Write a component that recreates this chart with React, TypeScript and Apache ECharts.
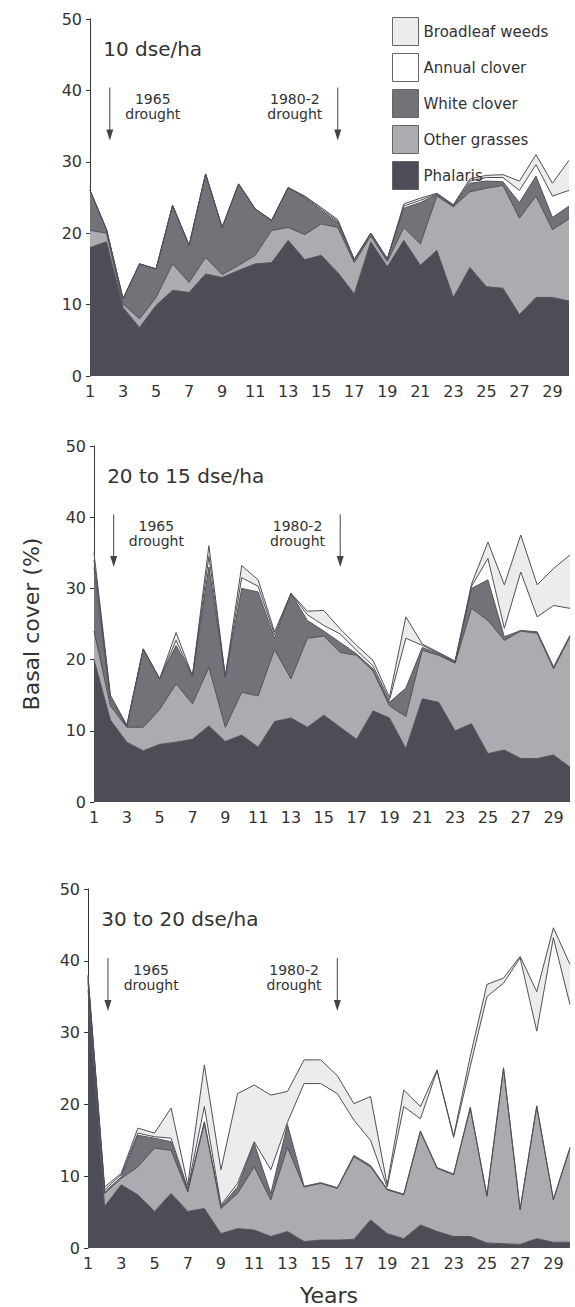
import React, { useEffect, useRef } from "react";
import * as echarts from "echarts";

const years = ["1","2","3","4","5","6","7","8","9","10","11","12","13","14","15","16","17","18","19","20","21","22","23","24","25","26","27","28","29","30"];

const seriesNames = ["Phalaris", "Other grasses", "White clover", "Annual clover", "Broadleaf weeds"];
const seriesColors = ["#4d4d57", "#ababb0", "#727279", "#ffffff", "#ececec"];

// Panel 1: 10 dse/ha
const phalaris10 = [18, 18.8, 9.6, 6.8, 9.9, 12, 11.7, 14.3, 13.8, 14.8, 15.7, 15.9, 19, 16.3, 16.9, 14.5, 11.5, 18.8, 15.3, 19, 15.5, 17.6, 11, 15.2, 12.5, 12.3, 8.6, 11, 11, 10.5];
const otherGrasses10 = [2.4, 1.2, 0.5, 1.2, 1.1, 3.7, 1.4, 2.3, 0.4, 0.7, 1.2, 4.5, 1.8, 3.5, 4.4, 6.3, 4.4, 0.8, 0.7, 1.8, 3, 7.6, 12.7, 10.6, 13.8, 14.4, 13.5, 14.2, 9.5, 11.5];
const whiteClover10 = [5.6, 0.5, 0.7, 7.7, 4, 8.2, 5.2, 11.7, 6.6, 11.4, 6.5, 1.4, 5.6, 5.2, 1.9, 0.7, 0.4, 0.4, 0.4, 2.7, 5.8, 0.2, 0.1, 1.2, 1, 0.5, 2.2, 2.8, 1.7, 1.8];
const annualClover10 = [0, 0, 0, 0, 0, 0, 0, 0, 0, 0, 0, 0, 0, 0.1, 0.2, 0.2, 0, 0, 0, 0.3, 0.3, 0.1, 0.1, 0.3, 0.5, 0.6, 1.7, 1.6, 3, 2.2];
const broadleaf10 = [0, 0, 0, 0, 0, 0, 0, 0, 0, 0, 0, 0, 0, 0.1, 0.2, 0.2, 0, 0, 0, 0.3, 0.3, 0.1, 0.1, 0.3, 0.3, 0.4, 1.3, 1.4, 1.8, 4.2];

// Panel 2: 20 to 15 dse/ha
const phalaris20 = [20, 11.5, 8.4, 7.2, 8.1, 8.4, 8.8, 10.7, 8.5, 9.4, 7.7, 11.3, 11.8, 10.5, 12.2, 10.5, 8.8, 12.8, 11.8, 7.5, 14.5, 14, 10, 11, 6.8, 7.3, 6.1, 6.1, 6.6, 4.9];
const otherGrasses20 = [4, 2, 2.1, 3.3, 4.9, 8.2, 5, 8.2, 2, 6, 7.2, 10.1, 5.5, 12.5, 11.1, 10.5, 11.8, 5.6, 1.7, 4.5, 6.8, 6.6, 9.5, 16.2, 18.7, 15.4, 17.9, 17.6, 12.1, 18.3];
const whiteClover20 = [9, 1, 0.1, 11, 4.3, 5.4, 3.9, 14.1, 7.1, 14.6, 14.6, 1.6, 12, 2.5, 0.7, 1.4, 0.2, 0.3, 0.5, 4, 0.4, 0.2, 0.1, 2.8, 5.7, 0.5, 0.1, 0.2, 0.3, 0.2];
const annualClover20 = [1, 0.3, 0.1, 0, 0, 0.7, 0, 1.5, 0, 1.5, 0.8, 0.5, 0, 0.8, 0.8, 1.2, 0.5, 0.4, 0.3, 7, 0.3, 0.1, 0.1, 0.3, 3, 1.2, 8.2, 2.1, 8.6, 3.8];
const broadleaf20 = [1, 0.2, 0.1, 0, 0, 1.1, 0, 1.5, 0, 1.7, 0.9, 0.4, 0, 0.5, 2.1, 0.7, 0.7, 0.8, 0.4, 3, 0.2, 0.1, 0.1, 0.3, 2.3, 6.1, 5.2, 4.5, 5.2, 7.5];

// Panel 3: 30 to 20 dse/ha
const phalaris30 = [36, 5.8, 8.8, 7.4, 5.1, 7.6, 5.1, 5.5, 2, 2.7, 2.5, 1.6, 2.3, 0.9, 1.1, 1.1, 1.2, 3.9, 2, 1.3, 3.2, 2.3, 1.6, 1.6, 0.7, 0.6, 0.5, 1.3, 0.8, 0.8];
const otherGrasses30 = [1, 1.8, 0.9, 3.9, 8.8, 6, 2.7, 11.9, 3.5, 4.9, 8.8, 5.1, 11.7, 7.6, 7.9, 7.2, 11.5, 7.4, 6.1, 6.1, 13, 8.8, 8.6, 17.9, 6.5, 24.4, 4.8, 18.4, 5.9, 13.1];
const whiteClover30 = [0.5, 0.2, 0.2, 4.4, 1.4, 1.2, 0.3, 0.2, 0.3, 0.9, 3.3, 0.9, 3.2, 0.1, 0.1, 0.1, 0.2, 0.2, 0.1, 0.1, 0.1, 0.1, 0.1, 0.1, 0.1, 0.1, 0.1, 0.1, 0.1, 0.1];
const annualClover30 = [0.3, 0.3, 0.3, 0.3, 0.2, 0.5, 0.2, 2.1, 0.2, 0.5, 0.2, 3.3, 0.3, 14.3, 13.8, 13.1, 4.9, 3.5, 0.3, 12.2, 1.7, 13.5, 5.1, 5.7, 27.7, 11.8, 35, 10.4, 36.4, 19.9];
const broadleaf30 = [0.2, 0.4, 0.2, 0.7, 0.5, 4.2, 0.5, 5.8, 4.9, 12.5, 7.9, 10.4, 4.3, 3.3, 3.3, 2.5, 2.3, 6.1, 0.3, 2.3, 1.7, 0.1, 0.2, 1.4, 1.7, 0.7, 0.2, 5.5, 1.4, 5.6];

const panelTitles = ["10 dse/ha", "20 to 15 dse/ha", "30 to 20 dse/ha"];
const droughtLabels = ["1965\ndrought", "1980-2\ndrought"];
const droughtLabelYears = [4.8, 13.4];
const droughtArrowYears = [2.2, 16];

const FONT = "'DejaVu Sans', 'Liberation Sans', sans-serif";
const INK = "#333333";

const gridBoxes = [
  { left: 90, top: 19, width: 479, height: 357 },
  { left: 94, top: 446, width: 476, height: 356 },
  { left: 88, top: 889, width: 482, height: 359 },
];

export default function App() {
  const ref = useRef<HTMLDivElement>(null);
  useEffect(() => {
    if (!ref.current) return;
    const chart = echarts.init(ref.current, undefined, { renderer: "svg" });
    const panels = [
      [phalaris10, otherGrasses10, whiteClover10, annualClover10, broadleaf10],
      [phalaris20, otherGrasses20, whiteClover20, annualClover20, broadleaf20],
      [phalaris30, otherGrasses30, whiteClover30, annualClover30, broadleaf30],
    ];
    const series: any[] = [];
    panels.forEach((layers, p) => {
      layers.forEach((vals, k) => {
        series.push({
          type: "line",
          name: seriesNames[k],
          xAxisIndex: p,
          yAxisIndex: p,
          stack: "panel" + p,
          data: vals,
          symbol: "none",
          showSymbol: false,
          silent: true,
          lineStyle: { width: 1, color: "#505058" },
          itemStyle: { color: seriesColors[k] },
          areaStyle: { color: seriesColors[k], opacity: 1 },
        });
      });
    });
    const option: any = {
      animation: false,
      backgroundColor: "#ffffff",
      grid: gridBoxes.map((g) => ({ ...g, containLabel: false })),
      xAxis: gridBoxes.map((_, p) => ({
        type: "category",
        gridIndex: p,
        data: years,
        boundaryGap: false,
        axisLine: { show: false },
        axisTick: { show: false },
        axisLabel: { interval: 1, fontSize: 16, fontFamily: FONT, color: INK, margin: 7 },
        name: p === 2 ? "Years" : "",
        nameLocation: "middle",
        nameGap: 36,
        nameTextStyle: { fontSize: 22, fontFamily: FONT, color: INK },
      })),
      yAxis: gridBoxes.map((_, p) => ({
        type: "value",
        gridIndex: p,
        min: 0,
        max: 50,
        interval: 10,
        splitLine: { show: false },
        axisLine: { show: true, lineStyle: { color: INK, width: 1 } },
        axisTick: { show: true, length: 4, lineStyle: { color: INK } },
        axisLabel: { fontSize: 16, fontFamily: FONT, color: INK, margin: 8 },
        name: p === 1 ? "Basal cover (%)" : "",
        nameLocation: "middle",
        nameGap: 52,
        nameTextStyle: { fontSize: 22, fontFamily: FONT, color: INK },
      })),
      legend: {
        orient: "vertical",
        left: 387,
        top: 12,
        itemWidth: 26,
        itemHeight: 28,
        itemGap: 7,
        icon: "rect",
        selectedMode: false,
        textStyle: { fontSize: 15, fontFamily: FONT, color: INK },
        data: [4, 3, 2, 1, 0].map((k) => ({
          name: seriesNames[k],
          itemStyle: { color: seriesColors[k], borderColor: "#666", borderWidth: 1 },
        })),
      },
      series,
    };
    chart.setOption(option);

    const graphics: any[] = [];
    for (let p = 0; p < 3; p++) {
      const pt = (year: number, val: number) => {
        const i = year - 1;
        const i0 = Math.min(Math.floor(i), 28);
        const f = i - i0;
        const a = chart.convertToPixel({ gridIndex: p } as any, [i0, val]) as number[];
        const b = chart.convertToPixel({ gridIndex: p } as any, [i0 + 1, val]) as number[];
        return [a[0] + f * (b[0] - a[0]), a[1]];
      };
      const t = pt(1.8, 45.8);
      graphics.push({
        type: "text",
        x: t[0],
        y: t[1],
        style: { text: panelTitles[p], font: `20px ${FONT}`, fill: INK, textAlign: "left", textVerticalAlign: "middle" },
      });
      for (let d = 0; d < 2; d++) {
        const lp = pt(droughtLabelYears[d], 37.7);
        graphics.push({
          type: "text",
          x: lp[0],
          y: lp[1],
          style: { text: droughtLabels[d], font: `14px ${FONT}`, fill: INK, textAlign: "center", textVerticalAlign: "middle", lineHeight: 15 },
        });
        const top = pt(droughtArrowYears[d], 40.4);
        const bot = pt(droughtArrowYears[d], 33);
        graphics.push({
          type: "line",
          shape: { x1: top[0], y1: top[1], x2: top[0], y2: bot[1] - 8 },
          style: { stroke: "#444", lineWidth: 1 },
        });
        graphics.push({
          type: "polygon",
          shape: { points: [[top[0] - 3.5, bot[1] - 11], [top[0] + 3.5, bot[1] - 11], [top[0], bot[1]]] },
          style: { fill: "#444" },
        });
      }
    }
    chart.setOption({ graphic: graphics });
    return () => chart.dispose();
  }, []);
  return (
    <div
      ref={ref}
      style={{ position: "absolute", left: 0, top: 0, width: 575, height: 1307, background: "#fff" }}
    />
  );
}
